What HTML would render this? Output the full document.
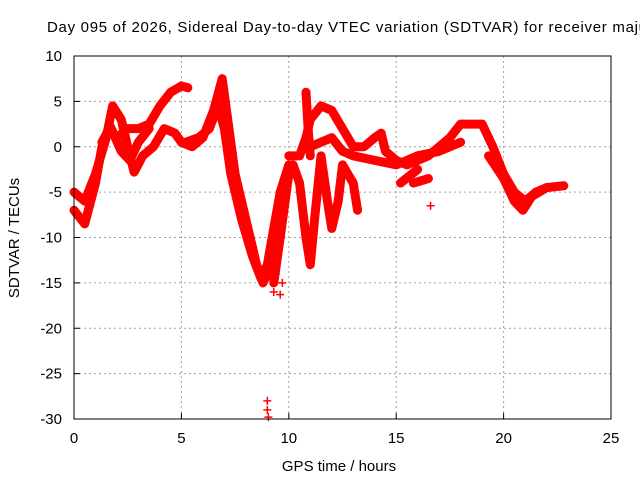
<!DOCTYPE html>
<html><head><meta charset="utf-8"><style>
body{margin:0;background:#fff}
svg{display:block;font-family:"Liberation Sans",sans-serif}
</style></head><body>
<svg id="chart" width="640" height="480">
<text x="47" y="32" font-size="15" textLength="600" lengthAdjust="spacing">Day 095 of 2026, Sidereal Day-to-day VTEC variation (SDTVAR) for receiver maju</text>
<g id="grid"></g>
<g id="axes"></g>
<g id="marks"></g>
<rect x="74" y="56" width="537" height="363" fill="none" stroke="#000" stroke-width="1"/>
<text x="339" y="471" font-size="15" text-anchor="middle">GPS time / hours</text>
<text x="19" y="238" font-size="15" text-anchor="middle" transform="rotate(-90 19 238)">SDTVAR / TECUs</text>
</svg>
<script>
const xTicks=[0,5,10,15,20,25];
const yTicks=[-30,-25,-20,-15,-10,-5,0,5,10];
const trackA=[[0,-7],[0.5,-8.5],[1.0,-4],[1.3,0],[1.6,2],[2.0,1],[2.5,2],[3,2],[3.5,2.5],[4,4.5],[4.5,6],[5,6.7],[5.3,6.5]];
const trackB=[[0,-5],[0.5,-6],[1,-3],[1.5,1],[1.8,4.5],[2.2,3],[2.5,0],[2.8,-2.8],[3.2,-1],[3.7,0],[4.2,2],[4.7,1.5],[5,0.5],[5.5,0],[6,1],[6.5,4],[6.9,7.5],[7.1,4],[7.5,-3],[8,-8],[8.5,-13],[8.8,-15],[9.2,-13],[9.5,-10]];
const trackC=[[1.3,0.5],[1.7,2.2],[2.2,-0.5],[2.6,-1.5],[3.0,0.5],[3.5,2]];
const trackD=[[5.2,0.5],[5.8,1],[6.3,2],[6.7,4.5],[7.0,2],[7.3,-3],[7.8,-8],[8.3,-12],[8.7,-14.5],[9.0,-13],[9.3,-9],[9.6,-5],[10,-2]];
const trackE=[[10,-1],[10.5,-1],[10.8,1],[11,3],[11.5,4.5],[12,4],[12.5,2],[13,0],[13.5,0],[14,1],[14.3,1.5],[14.5,-0.5],[15,-1.5],[15.5,-2],[16,-1.5],[16.5,-1],[17,0],[17.5,1],[18,2.5],[18.5,2.5],[19,2.5],[19.5,0],[20,-3],[20.5,-5],[21,-6],[21.5,-5],[22,-4.5],[22.8,-4.3]];
const trackF=[[11,0],[12,1],[12.5,-0.5],[13,-1],[14,-1.5],[15,-2],[15.5,-1.5],[16,-1],[17,-0.5],[17.5,0],[18,0.5]];
const trackG=[[19.3,-1],[20,-3.5],[20.5,-6],[20.9,-7],[21.3,-5.5],[22,-4.5]];
const trackH=[[9.3,-15],[9.6,-10],[10,-3],[10.2,-2],[10.5,-4],[10.8,-10],[11,-13],[11.2,-8],[11.5,-1],[11.8,-6],[12,-9],[12.3,-6],[12.5,-2],[13,-4],[13.2,-7]];
const trackI=[[15.2,-4],[16,-2.5]];
const trackJ=[[15.8,-4],[16.5,-3.5]];
const trackK=[[10.8,6],[10.9,2],[11.0,-1]];
const scatterPts=[[16.6,-6.5],[9.0,-28],[9.0,-29],[9.05,-29.8],[9.3,-16],[9.6,-16.3],[9.7,-15],[9.4,-14]];
const tracks=[trackA,trackB,trackC,trackD,trackE,trackF,trackG,trackH,trackI,trackJ,trackK];

const X=h=>74+h*537/25, Y=v=>56+(10-v)*363/40;
const NS='http://www.w3.org/2000/svg';
const grid=document.getElementById('grid'),axes=document.getElementById('axes'),marks=document.getElementById('marks');
function mk(t,a,p){const e=document.createElementNS(NS,t);for(const k in a)e.setAttribute(k,a[k]);p.appendChild(e);return e;}
xTicks.forEach(t=>{
 if(t>0&&t<25){const g=mk('line',{x1:X(t),x2:X(t),y1:56,y2:419,stroke:'#a0a0a0','stroke-dasharray':'2,3'},grid);
 
 }
 mk('line',{x1:X(t),x2:X(t),y1:419,y2:413,stroke:'#000'},axes);
 const l=mk('text',{x:X(t),y:443,'font-size':15,'text-anchor':'middle'},axes);l.textContent=t;
 
 
});
yTicks.forEach(t=>{
 if(t>-30&&t<10){const g=mk('line',{x1:74,x2:611,y1:Y(t),y2:Y(t),stroke:'#a0a0a0','stroke-dasharray':'2,3'},grid);
 
 }
 mk('line',{x1:74,x2:80,y1:Y(t),y2:Y(t),stroke:'#000'},axes);
 const l=mk('text',{x:62,y:Y(t)+5,'font-size':15,'text-anchor':'end'},axes);l.textContent=t;
 
 
});
function plus(h,v){const p=mk('path',{d:`M${X(h)-4},${Y(v)}h8M${X(h)},${Y(v)-4}v8`,stroke:'#f00','stroke-width':1.5},marks);
 
 }
tracks.forEach(tr=>{
 const pl=mk('polyline',{points:tr.map(p=>X(p[0])+','+Y(p[1])).join(' '),fill:'none',stroke:'#f00','stroke-width':9,'stroke-linejoin':'round','stroke-linecap':'round'},marks);
 
 
 tr.forEach(p=>plus(p[0],p[1]));
});
scatterPts.forEach(p=>plus(p[0],p[1]));
</script>
</body></html>
